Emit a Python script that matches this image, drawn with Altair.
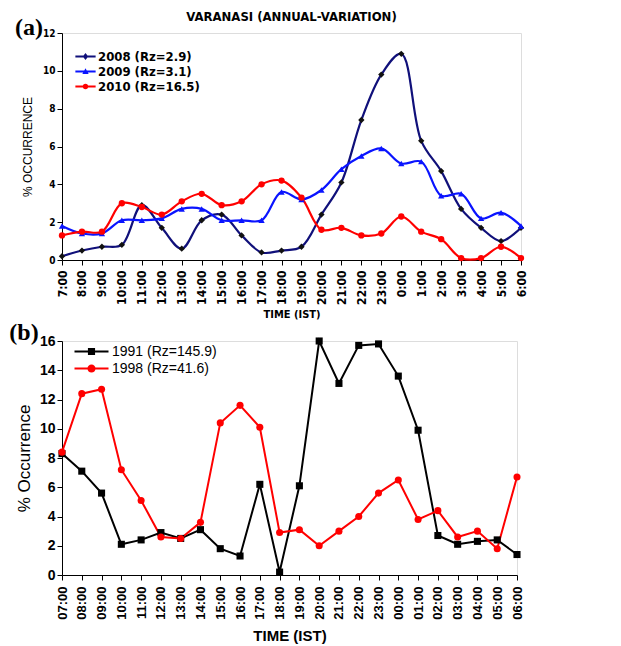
import altair as alt
import pandas as pd

# ---------------- data ----------------
hours_a = ["7:00", "8:00", "9:00", "10:00", "11:00", "12:00", "13:00", "14:00",
           "15:00", "16:00", "17:00", "18:00", "19:00", "20:00", "21:00", "22:00",
           "23:00", "0:00", "1:00", "2:00", "3:00", "4:00", "5:00", "6:00"]
hours_b = ["07:00", "08:00", "09:00", "10:00", "11:00", "12:00", "13:00", "14:00",
           "15:00", "16:00", "17:00", "18:00", "19:00", "20:00", "21:00", "22:00",
           "23:00", "00:00", "01:00", "02:00", "03:00", "04:00", "05:00", "06:00"]

series_a = ["2008 (Rz=2.9)", "2009 (Rz=3.1)", "2010 (Rz=16.5)"]
y2008 = [0.2, 0.5, 0.7, 0.8, 2.9, 1.7, 0.6, 2.1, 2.4, 1.3, 0.4, 0.5,
         0.7, 2.4, 4.1, 7.4, 9.8, 10.9, 6.3, 4.7, 2.7, 1.7, 1.0, 1.7]
y2009 = [1.8, 1.4, 1.4, 2.1, 2.1, 2.2, 2.7, 2.7, 2.1, 2.1, 2.1, 3.6,
         3.2, 3.7, 4.8, 5.5, 5.9, 5.1, 5.2, 3.4, 3.5, 2.2, 2.5, 1.8]
y2010 = [1.3, 1.5, 1.5, 3.0, 2.8, 2.4, 3.1, 3.5, 2.9, 3.1, 4.0, 4.2,
         3.3, 1.6, 1.7, 1.3, 1.4, 2.3, 1.5, 1.1, 0.1, 0.1, 0.7, 0.1]

series_b = ["1991 (Rz=145.9)", "1998 (Rz=41.6)"]
y1991 = [8.3, 7.1, 5.6, 2.1, 2.4, 2.9, 2.5, 3.1, 1.8, 1.3, 6.2, 0.2,
         6.1, 16.0, 13.1, 15.7, 15.8, 13.6, 9.9, 2.7, 2.1, 2.3, 2.4, 1.4]
y1998 = [8.4, 12.4, 12.7, 7.2, 5.1, 2.6, 2.5, 3.6, 10.4, 11.6, 10.1, 2.9,
         3.1, 2.0, 3.0, 4.0, 5.6, 6.5, 3.8, 4.4, 2.6, 3.0, 1.8, 6.7]

colors_a = ["#10107a", "#0a14ff", "#ff0000"]
marker_colors_a = ["#111111", "#0a14ff", "#ff0000"]
shapes_a = ["diamond", "triangle-up", "circle"]
colors_b = ["#000000", "#ff0000"]
shapes_b = ["square", "circle"]

# legend glyphs: a short line with the marker in the middle (all clockwise)
BAR_A = "M-1.35,-0.13 L1.35,-0.13 L1.35,0.13 L-1.35,0.13 Z "
GLYPH_A = {
    "diamond": BAR_A + "M0,-0.47 L0.36,0 L0,0.47 L-0.36,0 Z",
    "triangle-up": BAR_A + "M0,-0.45 L0.42,0.33 L-0.42,0.33 Z",
    "circle": BAR_A + "M-0.38,0 A0.38,0.38 0 1,1 0.38,0 A0.38,0.38 0 1,1 -0.38,0 Z",
}
BAR_B = "M-2,-0.12 L2,-0.12 L2,0.12 L-2,0.12 Z "
GLYPH_B = {
    "square": BAR_B + "M-0.42,-0.42 L0.42,-0.42 L0.42,0.42 L-0.42,0.42 Z",
    "circle": BAR_B + "M-0.48,0 A0.48,0.48 0 1,1 0.48,0 A0.48,0.48 0 1,1 -0.48,0 Z",
}

dfa = pd.DataFrame({
    "time": hours_a * 3,
    "value": y2008 + y2009 + y2010,
    "series": [series_a[0]] * 24 + [series_a[1]] * 24 + [series_a[2]] * 24,
})
dfb = pd.DataFrame({
    "time": hours_b * 2,
    "value": y1991 + y1998,
    "series": [series_b[0]] * 24 + [series_b[1]] * 24,
})

NARROW = "Liberation Sans Narrow, Arial Narrow, DejaVu Sans Condensed, sans-serif"
SANS = "Liberation Sans, Arial, sans-serif"
SERIF = "Liberation Serif, Times New Roman, serif"


def panel(df, hours, series, colors, mcolors, shapes, glyphs, xaxis, yaxis, ydom,
          legend, interp, lw, msize, label, label_xy, width, height, title=None):
    x = alt.X("time:N", sort=hours, scale=alt.Scale(type="point", padding=0), axis=xaxis)
    y = alt.Y("value:Q", scale=alt.Scale(domain=ydom), axis=yaxis)
    cscale = alt.Scale(domain=series, range=colors)
    sscale = alt.Scale(domain=series, range=[glyphs[s] for s in shapes])
    base = alt.Chart(df).encode(x=x, y=y)
    layers = [base.mark_line(interpolate=interp, strokeWidth=lw).encode(
        color=alt.Color("series:N", scale=cscale, legend=legend))]
    for s, mc, sh in zip(series, mcolors, shapes):
        layers.append(base.transform_filter(alt.datum.series == s).mark_point(
            shape=sh, filled=True, size=msize, opacity=1, color=mc))
    # legend-only layer (no rows drawn)
    empty = pd.DataFrame({"series": pd.Series([], dtype="object")})
    layers.append(alt.Chart(empty).mark_point(filled=True, opacity=1).encode(
        color=alt.Color("series:N", scale=cscale, legend=legend),
        shape=alt.Shape("series:N", scale=sscale, legend=legend),
    ))
    lab = alt.Chart(pd.DataFrame({"t": [label]})).mark_text(
        font=SERIF, fontSize=24, fontWeight="bold", color="black", align="center",
        baseline="middle").encode(x=alt.value(label_xy[0]), y=alt.value(label_xy[1]),
                                  text="t:N")
    layers.append(lab)
    if title is not None:
        layers.append(alt.Chart(pd.DataFrame({"t": [title]})).mark_text(
            font=NARROW, fontSize=13, fontWeight="bold", color="black", align="center",
            baseline="alphabetic").encode(x=alt.value(width / 2), y=alt.value(-12),
                                          text="t:N"))
    return alt.layer(*layers).properties(width=width, height=height)


xaxis_a = alt.Axis(title="TIME (IST)", labelAngle=-90, labelFont=NARROW,
                   labelFontWeight="bold", labelFontSize=12, labelColor="black",
                   titleFont=NARROW, titleFontWeight="bold", titleFontSize=11,
                   titleColor="black", domainColor="black", tickColor="black",
                   labelPadding=5, titlePadding=4, grid=False)
yaxis_a = alt.Axis(title="% OCCURRENCE", values=[0, 2, 4, 6, 8, 10, 12],
                   labelFont=NARROW, labelFontWeight="bold", labelFontSize=10,
                   labelColor="black", titleFont=SANS, titleFontWeight="normal",
                   titleFontSize=12, titleColor="black", domainColor="black",
                   tickColor="black", titlePadding=8, grid=False)
legend_a = alt.Legend(title=None, orient="none", legendX=16, legendY=16,
                      labelFont=NARROW, labelFontWeight="bold", labelFontSize=13,
                      labelColor="black", symbolSize=225, rowPadding=0,
                      labelOffset=5, symbolStrokeWidth=0, symbolOpacity=1)

xaxis_b = alt.Axis(title="TIME (IST)", labelAngle=-90, labelFont=SANS,
                   labelFontWeight="bold", labelFontSize=13, labelColor="black",
                   titleFont=SANS, titleFontWeight="bold", titleFontSize=15,
                   titleColor="black", domainColor="black", tickColor="black",
                   labelPadding=6, titlePadding=9, grid=False)
yaxis_b = alt.Axis(title="% Occurrence", values=[0, 2, 4, 6, 8, 10, 12, 14, 16],
                   labelFont=SANS, labelFontWeight="bold", labelFontSize=14,
                   labelColor="black", titleFont=SANS, titleFontWeight="normal",
                   titleFontSize=17, titleColor="black", domainColor="black",
                   tickColor="black", titlePadding=6, grid=False)
legend_b = alt.Legend(title=None, orient="none", legendX=21, legendY=2,
                      labelFont=SANS, labelFontSize=14, labelColor="black",
                      symbolSize=289, rowPadding=1, labelOffset=12,
                      symbolStrokeWidth=0, symbolOpacity=1)

panel_a = panel(dfa, hours_a, series_a, colors_a, marker_colors_a, shapes_a, GLYPH_A,
                xaxis_a, yaxis_a, [0, 12], legend_a, "catmull-rom", 2.2, 40,
                "(a)", (-33, -5), 459, 227, title="VARANASI (ANNUAL-VARIATION)")
panel_b = panel(dfb, hours_b, series_b, colors_b, colors_b, shapes_b, GLYPH_B,
                xaxis_b, yaxis_b, [0, 16], legend_b, "linear", 2, 50,
                "(b)", (-38, -8), 455, 234)

chart = alt.vconcat(panel_a, panel_b, spacing=0).resolve_scale(
    color="independent", shape="independent"
).configure_view(stroke="#333333", strokeWidth=1.5).configure(
    background="white", padding={"top": 2, "left": 0, "right": 0, "bottom": 0}
)

chart.save("out.html", embed_options={"renderer": "svg", "actions": False})
